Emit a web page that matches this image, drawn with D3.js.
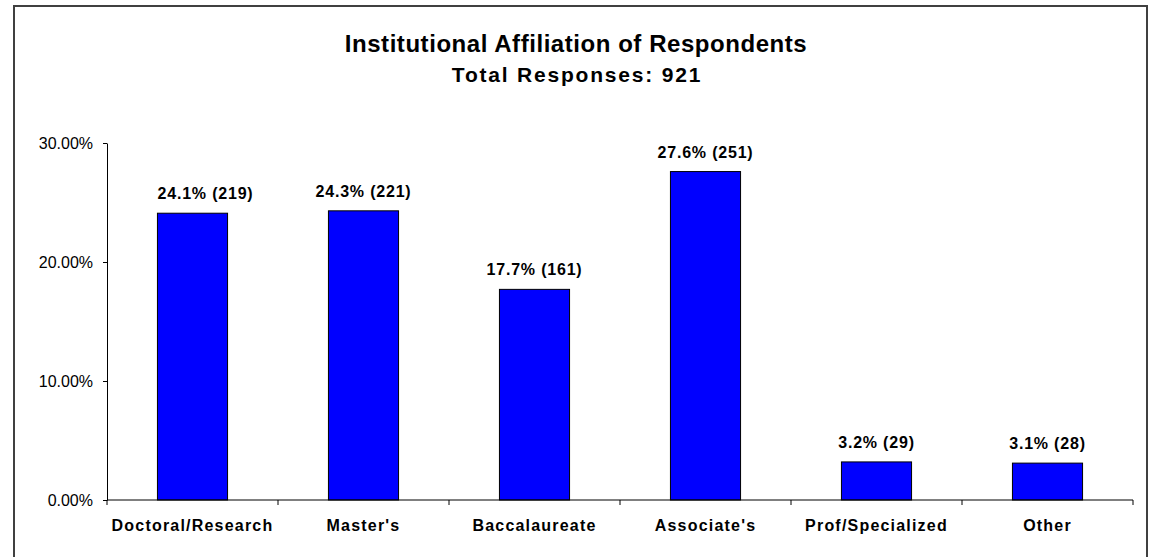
<!DOCTYPE html>
<html>
<head>
<meta charset="utf-8">
<script src="https://cdn.jsdelivr.net/npm/d3@7"></script>
<style>
  body { margin: 0; background: #fff; }
  text { font-family: "Liberation Sans", Arial, sans-serif; fill: #000; }
</style>
</head>
<body>
<div id="chart"></div>
<script>
// data
const categories = ["Doctoral/Research", "Master's", "Baccalaureate", "Associate's", "Prof/Specialized", "Other"];
const percents = [24.1, 24.3, 17.7, 27.6, 3.2, 3.1];
const counts = [219, 221, 161, 251, 29, 28];
const yTicks = [0, 10, 20, 30];
const titleText = "Institutional Affiliation of Respondents";
const subtitleText = "Total Responses: 921";

const width = 1153, height = 557;
const margins = { top: 143, right: 20, bottom: 57, left: 107 };

const svg = d3.select("#chart").append("svg")
    .attr("width", width)
    .attr("height", height);

// outer frame
svg.append("rect")
    .attr("x", 14).attr("y", 6)
    .attr("width", 1133).attr("height", 560)
    .attr("fill", "#fff")
    .attr("stroke", "#404040")
    .attr("stroke-width", 2);

// titles
svg.append("text")
    .attr("x", 576).attr("y", 52)
    .attr("text-anchor", "middle")
    .style("font-size", "24px").style("font-weight", "bold")
    .style("letter-spacing", "0.55px")
    .text(titleText);

svg.append("text")
    .attr("x", 577).attr("y", 82)
    .attr("text-anchor", "middle")
    .style("font-size", "21px").style("font-weight", "bold")
    .style("letter-spacing", "1.8px")
    .text(subtitleText);

const data = categories.map((c, i) => ({ cat: c, pct: percents[i], n: counts[i] }));

const x = d3.scaleBand()
    .domain(categories)
    .range([margins.left, 1133])
    .padding(0);

const y = d3.scaleLinear()
    .domain([0, 30])
    .range([500, margins.top]);

const g = svg.append("g");

// y axis
const yAxis = g.append("g")
    .attr("transform", `translate(${margins.left},0)`)
    .call(d3.axisLeft(y).tickValues(yTicks).tickSize(4).tickSizeOuter(0)
        .tickFormat(d => d3.format(".2f")(d) + "%"));
yAxis.attr("font-size", 16).attr("font-family", "'Liberation Sans', Arial, sans-serif");
yAxis.select(".domain").attr("stroke", "#000");
yAxis.selectAll(".tick line").attr("stroke", "#000");
yAxis.selectAll(".tick text")
    .attr("x", -14)
    .style("font-size", "16px");

// bars
const barW = x.bandwidth() * 0.41;
g.selectAll(".bar")
    .data(data)
    .enter()
    .append("rect")
    .attr("class", "bar")
    .attr("x", d => x(d.cat) + (x.bandwidth() - barW) / 2)
    .attr("y", d => y(d.pct))
    .attr("width", barW)
    .attr("height", d => y(0) - y(d.pct))
    .attr("fill", "#0000ff")
    .attr("stroke", "#000")
    .attr("stroke-width", 1);

// value labels (first one sits a bit to the right in the original)
g.selectAll(".vlabel")
    .data(data)
    .enter()
    .append("text")
    .attr("class", "vlabel")
    .attr("x", d => x(d.cat) + x.bandwidth() / 2)
    .attr("dx", (d, i) => i === 0 ? 13 : 0)
    .attr("y", d => y(d.pct) - 14)
    .attr("text-anchor", "middle")
    .style("font-size", "16px").style("font-weight", "bold")
    .style("letter-spacing", "0.8px")
    .text(d => `${d.pct.toFixed(1)}% (${d.n})`);

// x axis: ticks on category boundaries
const xAxisG = g.append("g").attr("transform", `translate(0,${y(0)})`);
xAxisG.append("line")
    .attr("x1", margins.left).attr("x2", 1133)
    .attr("stroke", "#000");
const bounds = categories.map(c => x(c)).concat([x.range()[1]]);
xAxisG.selectAll(".xtick")
    .data(bounds)
    .enter()
    .append("line")
    .attr("x1", d => d).attr("x2", d => d)
    .attr("y1", 0).attr("y2", 5)
    .attr("stroke", "#000");

xAxisG.selectAll(".xlabel")
    .data(categories)
    .enter()
    .append("text")
    .attr("x", d => x(d) + x.bandwidth() / 2)
    .attr("y", 31)
    .attr("text-anchor", "middle")
    .style("font-size", "16px").style("font-weight", "bold")
    .style("letter-spacing", "1.2px")
    .text(d => d);
</script>
</body>
</html>
